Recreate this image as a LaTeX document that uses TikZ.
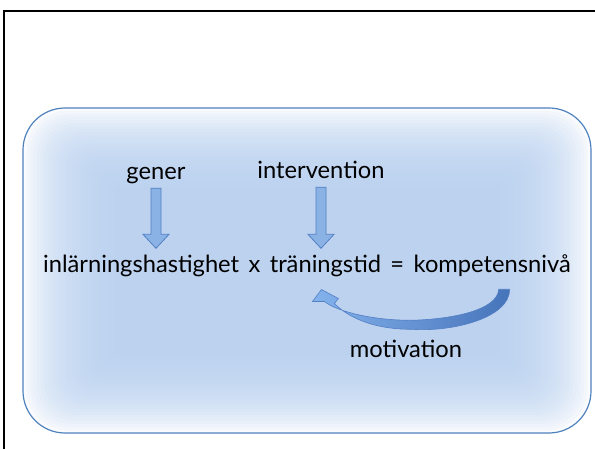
\documentclass[tikz,border=0pt]{standalone}
\usepackage{fontspec}
\setmainfont{Lato}
\usetikzlibrary{positioning,calc}
\definecolor{panelblue}{RGB}{182,206,238}
\definecolor{paneledge}{RGB}{79,129,189}
\definecolor{arrowfill}{RGB}{138,178,228}
\definecolor{arrowedge}{RGB}{84,128,196}
\definecolor{loopdark}{RGB}{70,116,186}
\definecolor{looplight}{RGB}{132,178,236}

\begin{document}
\begin{tikzpicture}[x=1pt,y=-1pt,node distance=9pt,
  term/.style={inner sep=0pt,font=\fontsize{23.7}{28}\selectfont},
  tag/.style={term,text depth=8pt},
  fat arrow/.style={fill=arrowfill,draw=arrowedge,line width=0.8pt,
    to path={let \p1=(\tikztostart),\p2=(\tikztotarget) in
      (\x1-5pt,\y1) -- (\x1+5pt,\y1) -- (\x1+5pt,\y2+14pt) -- (\x1+13pt,\y2+14pt)
      -- (\x1,\y2) -- (\x1-13pt,\y2+14pt) -- (\x1-5pt,\y2+14pt) -- cycle}},
  loop arrow/.style={left color=looplight,right color=loopdark,draw=arrowedge,line width=0.6pt,
    to path={let \p1=(\tikztostart),\p2=(\tikztotarget) in
      (\x1+5.5pt,\y1) .. controls (\x1+5.5pt,\y1-29pt) and (\x1-52.5pt,\y1-43pt) .. (\x1-92.5pt,\y1-40pt)
      .. controls (\x2+58pt,\y2-40pt) and (\x2+30pt,\y2-31pt) .. (\x2+13pt,\y2-14pt)
      -- (\x2+17pt,\y2-9pt) -- (\x2,\y2) -- (\x2-9pt,\y2-12pt) -- (\x2+3pt,\y2-12pt)
      .. controls (\x2+17pt,\y2-23pt) and (\x2+55pt,\y2-31pt) .. (\x1-92.5pt,\y1-31pt)
      .. controls (\x1-52.5pt,\y1-30pt) and (\x1-6.5pt,\y1-21pt) .. (\x1-5.5pt,\y1) -- cycle}}]
\useasboundingbox (0,0) rectangle (595,449);
\draw[line width=2pt] (4,449) -- (4,11) -- (595,11);

\foreach \i [evaluate=\i as \r using 42-1.5*\i] in {0,...,27}
  \fill[panelblue,opacity=0.085,rounded corners=\r pt] (23+3.5*\i,108+3*\i) rectangle (591-3.5*\i,433-3*\i);
\draw[paneledge,line width=1.2pt,rounded corners=42pt] (23,108) rectangle (591,433);

\node[term,anchor=base west] (rate) at (43,273) {inlärningshastighet};
\node[term] (times) [base right=of rate] {x};
\node[term] (time) [base right=of times] {träningstid};
\node[term] (equals) [base right=of time] {=};
\node[term] (level) [base right=of equals] {kompetensnivå};

\node[tag,anchor=base] (gener) at (156,180) {gener};
\node[tag,anchor=base] (intervention) at (321,179) {intervention};
\node[term,anchor=base] (motivation) at (406,358) {motivation};

\path[fat arrow] (gener.south) to ([yshift=7pt]rate.north);
\path[fat arrow] (intervention.south) to ([yshift=7pt]time.north);
\path[loop arrow] ([xshift=12pt,yshift=-12pt]level.south) to ([xshift=-4pt,yshift=-12pt]time.south);
\end{tikzpicture}
\end{document}
